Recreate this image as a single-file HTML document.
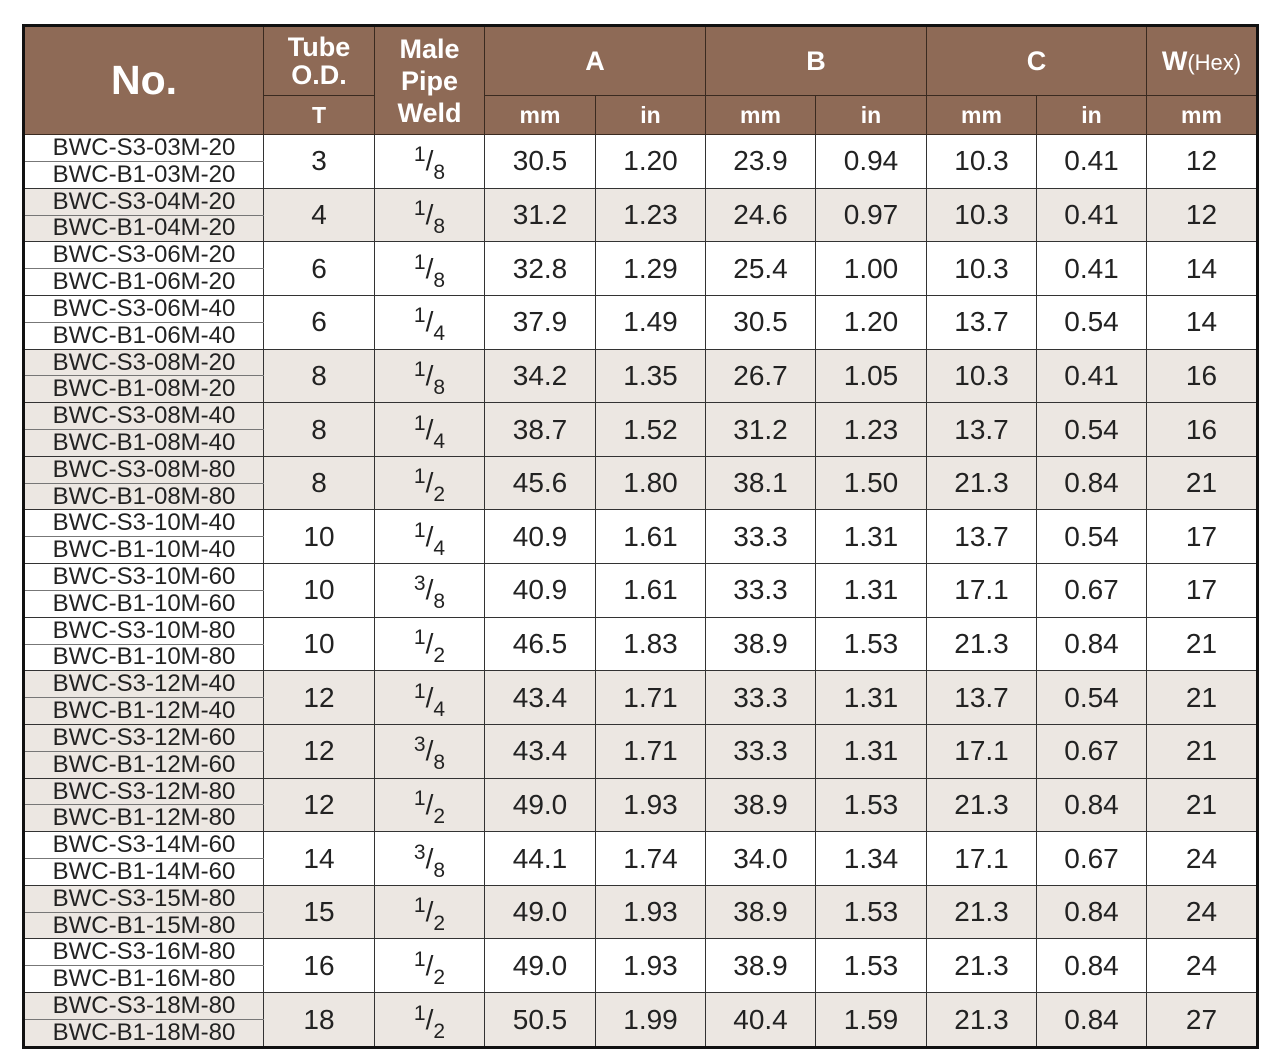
<!DOCTYPE html>
<html><head><meta charset="utf-8"><style>
html,body{margin:0;padding:0;background:#fff;width:1275px;height:1059px;overflow:hidden}
table{position:absolute;left:22px;top:24px;width:1236px;height:1025px;border-collapse:collapse;table-layout:fixed;border:3px solid #111;font-family:"Liberation Sans",Arial,sans-serif}
td,th{padding:0;text-align:center;vertical-align:middle;border:1px solid #333;overflow:hidden;white-space:nowrap}
th{background:#8e6a56;color:#fff;font-weight:bold;border-color:#3a2a20}
.h1{height:70px}.h2{height:39px}
.big{font-size:41px}
.mid{font-size:27px;line-height:28px}
.sm{font-size:23px}
.w{font-size:27px}.w span{font-weight:normal;font-size:22px}
tr.s td{height:25.8px}
td.no{font-size:24px;color:#222;line-height:20px;border-left:none}
td.n{font-size:28px;color:#222}
td.top{border-bottom:1px solid #777}
.b td{background:#ece7e2}
sup,sub{font-size:21px;line-height:0}
sup{vertical-align:9px}sub{vertical-align:-9px}
.fr{font-size:32px}
</style></head><body>
<table>
<colgroup><col style="width:240px"><col style="width:111px"><col style="width:110px"><col style="width:111px"><col style="width:110px"><col style="width:110px"><col style="width:111px"><col style="width:110px"><col style="width:110px"><col style="width:111px"></colgroup>
<tr class="h1"><th rowspan="2" class="big">No.</th><th class="mid">Tube<br>O.D.</th><th rowspan="2" class="mid" style="line-height:32px">Male<br>Pipe<br>Weld</th><th colspan="2" class="w">A</th><th colspan="2" class="w">B</th><th colspan="2" class="w">C</th><th class="w">W<span>(Hex)</span></th></tr>
<tr class="h2"><th class="sm">T</th><th class="sm">mm</th><th class="sm">in</th><th class="sm">mm</th><th class="sm">in</th><th class="sm">mm</th><th class="sm">in</th><th class="sm">mm</th></tr>
<tbody id="b"></tbody>
</table>
<script>
var d=[["03M-20","3","1","8","30.5","1.20","23.9","0.94","10.3","0.41","12",0],
["04M-20","4","1","8","31.2","1.23","24.6","0.97","10.3","0.41","12",1],
["06M-20","6","1","8","32.8","1.29","25.4","1.00","10.3","0.41","14",0],
["06M-40","6","1","4","37.9","1.49","30.5","1.20","13.7","0.54","14",0],
["08M-20","8","1","8","34.2","1.35","26.7","1.05","10.3","0.41","16",1],
["08M-40","8","1","4","38.7","1.52","31.2","1.23","13.7","0.54","16",1],
["08M-80","8","1","2","45.6","1.80","38.1","1.50","21.3","0.84","21",1],
["10M-40","10","1","4","40.9","1.61","33.3","1.31","13.7","0.54","17",0],
["10M-60","10","3","8","40.9","1.61","33.3","1.31","17.1","0.67","17",0],
["10M-80","10","1","2","46.5","1.83","38.9","1.53","21.3","0.84","21",0],
["12M-40","12","1","4","43.4","1.71","33.3","1.31","13.7","0.54","21",1],
["12M-60","12","3","8","43.4","1.71","33.3","1.31","17.1","0.67","21",1],
["12M-80","12","1","2","49.0","1.93","38.9","1.53","21.3","0.84","21",1],
["14M-60","14","3","8","44.1","1.74","34.0","1.34","17.1","0.67","24",0],
["15M-80","15","1","2","49.0","1.93","38.9","1.53","21.3","0.84","24",1],
["16M-80","16","1","2","49.0","1.93","38.9","1.53","21.3","0.84","24",0],
["18M-80","18","1","2","50.5","1.99","40.4","1.59","21.3","0.84","27",1]];
var h="";
d.forEach(function(r){var c=r[11]?' class="s b"':' class="s"';
h+='<tr'+c+'><td class="no top">BWC-S3-'+r[0]+'</td><td rowspan="2" class="n">'+r[1]+'</td><td rowspan="2" class="n fr"><sup>'+r[2]+'</sup>/<sub>'+r[3]+'</sub></td>';
for(var i=4;i<11;i++)h+='<td rowspan="2" class="n">'+r[i]+'</td>';
h+='</tr><tr'+c+'><td class="no">BWC-B1-'+r[0]+'</td></tr>';});
document.getElementById("b").innerHTML=h;
</script>
</body></html>
